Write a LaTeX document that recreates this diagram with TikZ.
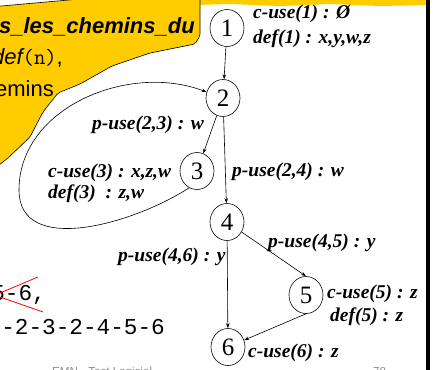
\documentclass[tikz,border=0pt]{standalone}
\usepackage{fontspec}
\setmainfont{Liberation Serif}
\newfontfamily\sansfont{Liberation Sans}
\newfontfamily\pathfont{Liberation Mono}
\usetikzlibrary{arrows.meta,shapes.geometric}
\definecolor{slideyellow}{RGB}{255,204,0}
\definecolor{footgray}{RGB}{140,140,140}
\begin{document}
\begin{tikzpicture}[x=1pt, y=-1pt,
    vtx/.style={ellipse, draw, inner sep=0pt, minimum width=34pt, minimum height=37pt,
      line width=0.6pt, font=\fontsize{25}{25}\selectfont},
    lbl/.style={anchor=base west, inner sep=0pt, font=\fontsize{19.5}{20}\selectfont\bfseries\itshape},
    arc/.style={-{Stealth[length=5pt,width=3.5pt]}, line width=0.6pt},
    bubbletext/.style={anchor=base east, inner sep=0pt, font=\fontsize{22}{22}\sansfont},
    pathtext/.style={anchor=base east, inner sep=0pt, font=\fontsize{22.7}{23}\pathfont}]
    \useasboundingbox (0,0) rectangle (440,370);
    \clip (0,0) rectangle (440,370);
    % bandeau, bord droit et bulle
    \fill[slideyellow] (195,-5) -- (427,-5) -- (427,5) -- (380,6) -- (330,4) -- (280,6) -- (230,4) -- (195,5) -- cycle;
    \fill (425.5,-5) rectangle (429.5,375);
    \filldraw[fill=slideyellow, line width=0.6pt, rounded corners=2pt]
        (-10,7) -- (80,-1) -- (80,-10) -- (200,-10) -- (200,36) -- (195,44) -- (150,53)
        -- (112,66) -- (80,84) -- (58,93) -- (43,112) -- (30,137) -- (8,158) -- (-10,172) -- cycle;
    \node[bubbletext, font=\fontsize{22}{22}\sansfont\bfseries\itshape] (t1) at (195,33) {s\_les\_chemins\_du};
    \node[bubbletext] (t2) at (63,64) {{\itshape def}{\ttfamily (n)},};
    \node[bubbletext] (t3) at (54,96) {emins};
    % graphe
    \foreach \v/\x/\y in {1/227/28, 2/223/98, 3/197/171, 4/227/222, 5/306/295, 6/228/347}{
        \node[vtx] (n\v) at (\x,\y) {\v};
    }
    \draw[arc] (n1) -- (n2);
    \draw[arc] (n2) -- (n3);
    \draw[arc] (n2) -- (n4);
    \draw[arc] (n4) -- (n5.north);
    \draw[arc] (n4) -- (n6);
    \draw[arc] (n5.south) -- (n6);
    \coordinate (loopL) at (19,190);
    \draw[arc] (n3.245) to[out=213, in=270] (loopL) to[out=90, in=159] (n2.160);
    % annotations
    \node[lbl] (cu1) at (253,18) {c-use(1) : Ø};
    \node[lbl] (df1) at (253,43) {def(1) : x,y,w,z};
    \node[lbl] (pu23) at (92,129) {p-use(2,3) : w};
    \node[lbl] (cu3) at (48,177) {c-use(3) : x,z,w};
    \node[lbl] (df3) at (48,198) {def(3)\ \ : z,w};
    \node[lbl] (pu24) at (232,176) {p-use(2,4) : w};
    \node[lbl] (pu45) at (268,247) {p-use(4,5) : y};
    \node[lbl] (pu46) at (118,261) {p-use(4,6) : y};
    \node[lbl] (cu5) at (327,298) {c-use(5) : z};
    \node[lbl] (df5) at (330,321) {def(5) : z};
    \node[lbl] (cu6) at (248,357) {c-use(6) : z};
    % chemins
    \node[pathtext] (p1) at (46,300) {5-6,};
    \draw[red, line width=0.8pt] (0,293) -- (38,277);
    \draw[red, line width=0.8pt] (0,297) -- (43,312);
    \node[pathtext] (p2) at (165,334) {-2-3-2-4-5-6};
    % pied de page
    \node[anchor=base west, inner sep=0pt, font=\fontsize{11.6}{12}\sansfont, text=footgray] (foot) at (52,375.5) {EMN - Test Logiciel};
    \node[anchor=base west, inner sep=0pt, font=\fontsize{11.6}{12}\sansfont, text=footgray] (page) at (373,375.5) {78};
\end{tikzpicture}
\end{document}
